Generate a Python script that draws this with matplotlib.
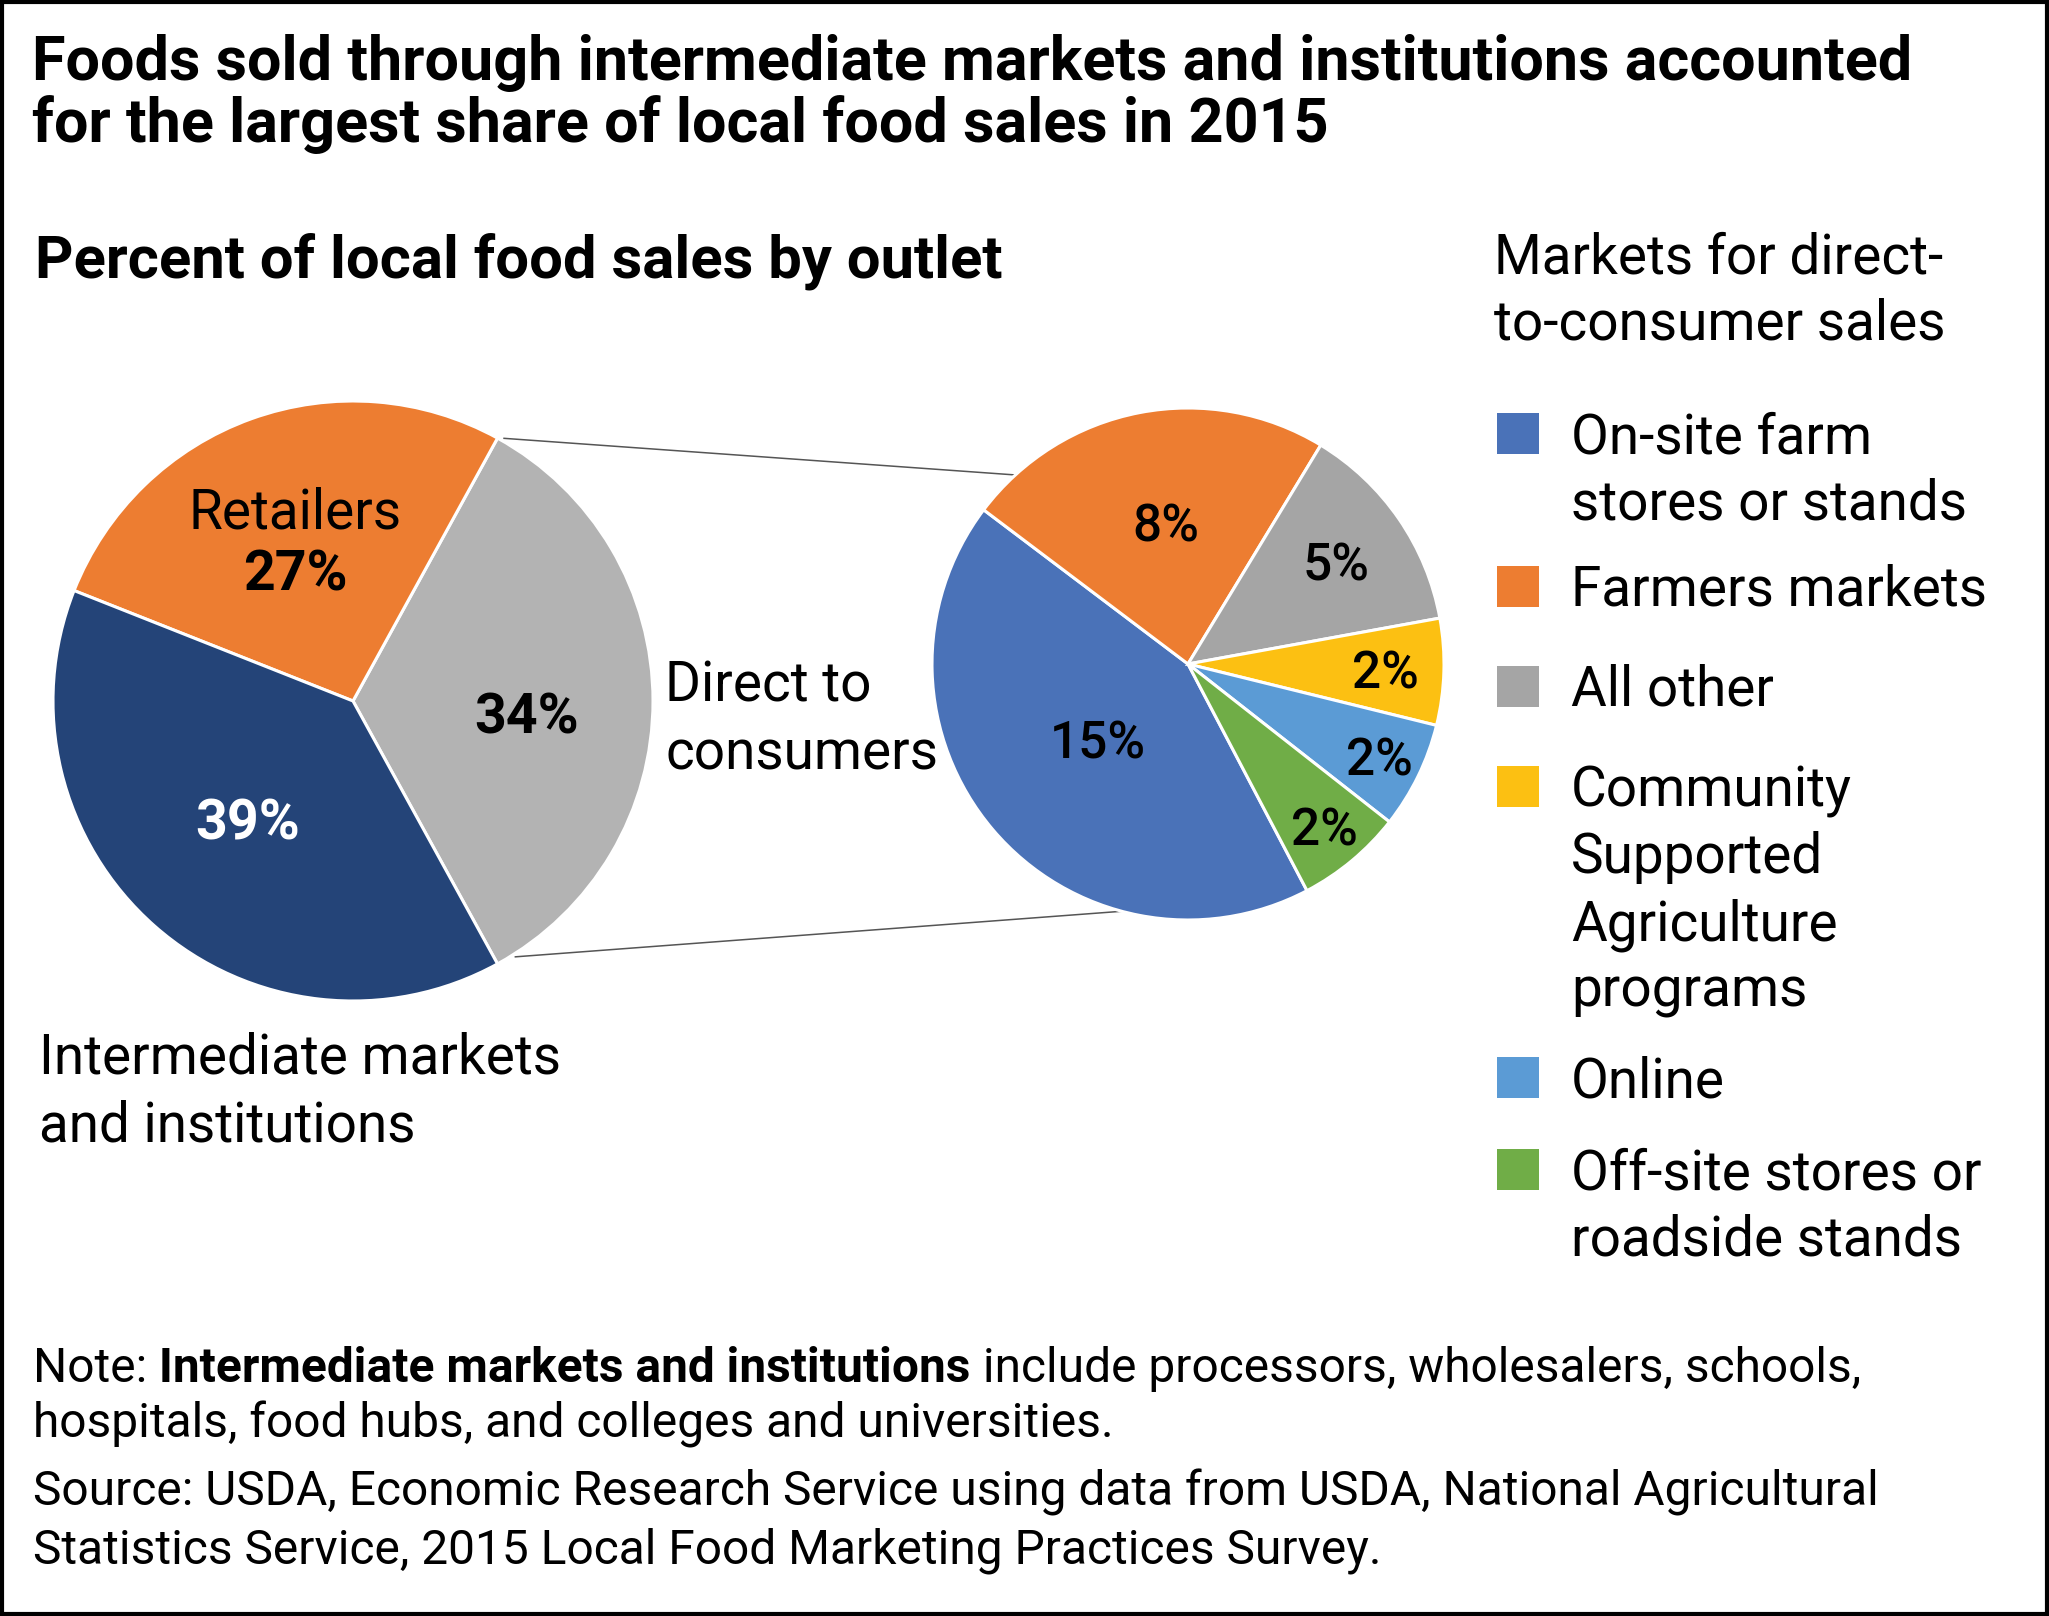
import matplotlib
matplotlib.use("Agg")
import matplotlib.pyplot as plt
import numpy as np
from matplotlib.patches import Rectangle

plt.rcParams['font.family'] = ['Roboto', 'DejaVu Sans']

W, H = 2049, 1616

# --- data ---
outlets = ["Direct to\nconsumers", "Retailers", "Intermediate markets\nand institutions"]
outlet_share = [34, 27, 39]
outlet_colors = ["#B3B3B3", "#ED7D31", "#244478"]

direct_markets = ["On-site farm\nstores or stands", "Farmers markets", "All other",
                  "Community\nSupported\nAgriculture\nprograms", "Online",
                  "Off-site stores or\nroadside stands"]
direct_share = [14.7, 8.0, 4.6, 2.3, 2.3, 2.3]
direct_labels = ["15%", "8%", "5%", "2%", "2%", "2%"]
direct_colors = ["#4A72B8", "#ED7D31", "#A5A5A5", "#FCC012", "#5B9BD5", "#70AD47"]

title = ("Foods sold through intermediate markets and institutions accounted\n"
         "for the largest share of local food sales in 2015")
subtitle = "Percent of local food sales by outlet"
legend_title = "Markets for direct-\nto-consumer sales"
source = ("Source: USDA, Economic Research Service using data from USDA, National Agricultural\n"
          "Statistics Service, 2015 Local Food Marketing Practices Survey.")


def Y(py):
    # image pixel row -> data y
    return H - py


fig = plt.figure(figsize=(W / 100, H / 100), dpi=100)
ax = fig.add_axes([0, 0, 1, 1])


def lines(x, y0, txt, dy, **kw):
    # one text per line, y0 = baseline of first line in image pixels
    for i, s in enumerate(txt.split("\n")):
        ax.text(x, Y(y0 + i * dy), s, va="baseline", ha="left", **kw)


# big pie
c1, r1 = (353, Y(701)), 300
w1, _ = ax.pie(outlet_share, colors=outlet_colors, startangle=-61.2, radius=r1, center=c1,
               wedgeprops=dict(edgecolor="white", linewidth=2.2), frame=True)

# small pie, clockwise from the bottom
c2, r2 = (1188, Y(664)), 256
w2, _ = ax.pie(direct_share, colors=direct_colors, startangle=297.7, counterclock=False,
               radius=r2, center=c2, wedgeprops=dict(edgecolor="white", linewidth=2.2), frame=True)


def wedge_pos(w, c, r, frac):
    th = np.deg2rad((w.theta1 + w.theta2) / 2)
    return c[0] + r * frac * np.cos(th), c[1] + r * frac * np.sin(th)


fs = 39.5
pfs = 40
# labels big pie
x, y = wedge_pos(w1[0], c1, r1, 0.58)
ax.text(x, y - 33, f"{outlet_share[0]}%", ha="center", va="baseline", fontsize=pfs, weight="bold")
x, y = wedge_pos(w1[1], c1, r1, 0.57)
ax.text(x, y + 12, outlets[1], ha="center", va="baseline", fontsize=fs)
ax.text(x, y - 50, f"{outlet_share[1]}%", ha="center", va="baseline", fontsize=pfs, weight="bold")
x, y = wedge_pos(w1[2], c1, r1, 0.53)
ax.text(x, y - 19, f"{outlet_share[2]}%", ha="center", va="baseline", fontsize=pfs, weight="bold",
        color="white")

lines(665, 701, outlets[0], 68, fontsize=fs)
lines(39, 1074, outlets[2], 67, fontsize=fs)

# labels small pie
dist2 = [0.46, 0.56, 0.70, 0.77, 0.83, 0.83]
for w, lab, d in zip(w2, direct_labels, dist2):
    x, y = wedge_pos(w, c2, r2, d)
    ax.text(x + 5 * (lab == "8%"), y - 18, lab, ha="center", va="baseline", fontsize=37, weight="medium")

# connector lines
for a1, a2 in [(60.1, 132.4), (-57.6, -105.0)]:
    p1 = (c1[0] + r1 * 1.01 * np.cos(np.deg2rad(a1)), c1[1] + r1 * 1.01 * np.sin(np.deg2rad(a1)))
    p2 = (c2[0] + r2 * np.cos(np.deg2rad(a2)), c2[1] + r2 * np.sin(np.deg2rad(a2)))
    ax.plot([p1[0], p2[0]], [p1[1], p2[1]], color="#555555", lw=1.1, zorder=0)

# legend
lines(1494, 273, legend_title, 67, fontsize=fs)
leg_y = [453, 606, 706, 806, 1097, 1189]
for lab, col, ly in zip(direct_markets, direct_colors, leg_y):
    ax.add_patch(Rectangle((1497, Y(ly) - 1), 42, 41, facecolor=col, edgecolor="none"))
    lines(1571, ly, lab, 67, fontsize=fs)

# titles
lines(32, 80, title, 62, fontsize=44, weight="bold")
lines(35, 278, subtitle, 0, fontsize=43, weight="semibold")

# note and source
nfs = 34.5
t1 = ax.text(33, Y(1382), "Note:", ha="left", va="baseline", fontsize=nfs)
t2 = ax.annotate(" Intermediate markets and institutions", xy=(1, 0), xycoords=t1,
                 va="bottom", ha="left", fontsize=nfs, weight="bold")
ax.annotate(" include processors, wholesalers, schools,", xy=(1, 0), xycoords=t2,
            va="bottom", ha="left", fontsize=nfs)
lines(33, 1438, "hospitals, food hubs, and colleges and universities.", 0, fontsize=nfs)
lines(33, 1506, source, 58, fontsize=nfs)

# frame
ax.add_patch(Rectangle((2, 2), W - 4, H - 4, fill=False, edgecolor="black", lw=3))

ax.set_xlim(0, W)
ax.set_ylim(0, H)
ax.axis("off")
fig.savefig("out.png", dpi=100)
